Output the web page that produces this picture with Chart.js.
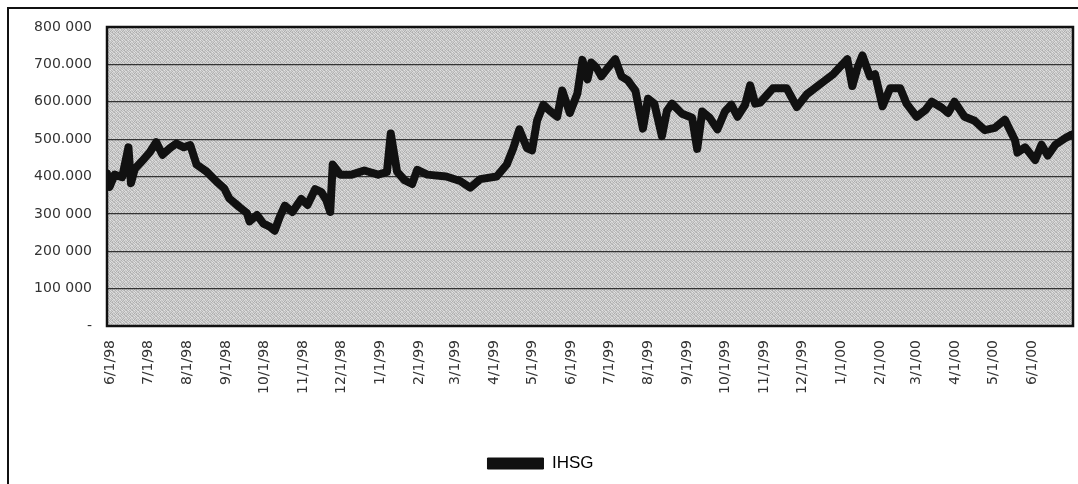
<!DOCTYPE html>
<html><head><meta charset="utf-8">
<script src="https://cdn.jsdelivr.net/npm/chart.js@4/dist/chart.umd.min.js"></script>
<style>
html,body{margin:0;padding:0;background:#fff;}
#wrap{position:relative;width:1078px;height:484px;overflow:hidden;}
#frame{position:absolute;left:7px;top:7px;right:-4px;bottom:-4px;border-top:2px solid #111;border-left:2px solid #111;pointer-events:none;}
canvas{position:absolute;left:0;top:0;}
</style></head><body>
<div id="wrap"><canvas id="c" width="1078" height="484"></canvas><div id="frame"></div></div>
<script>
const seriesName = "IHSG";
const dates = [
"1998-05-29","1998-05-31","1998-06-04","1998-06-10","1998-06-15","1998-06-17","1998-06-20","1998-06-26",
"1998-07-02","1998-07-07","1998-07-12","1998-07-18","1998-07-23","1998-07-29","1998-08-03","1998-08-08",
"1998-08-16","1998-08-24","1998-08-30","1998-09-03","1998-09-11","1998-09-17","1998-09-19","1998-09-25",
"1998-09-30","1998-10-05","1998-10-09","1998-10-13","1998-10-17","1998-10-23","1998-10-30","1998-11-04",
"1998-11-10","1998-11-15","1998-11-19","1998-11-22","1998-11-24","1998-11-30","1998-12-09","1998-12-19",
"1998-12-30","1999-01-06","1999-01-09","1999-01-14","1999-01-20","1999-01-26","1999-01-30","1999-02-07",
"1999-02-22","1999-03-05","1999-03-13","1999-03-21","1999-04-03","1999-04-11","1999-04-16","1999-04-21",
"1999-04-27","1999-05-01","1999-05-05","1999-05-10","1999-05-15","1999-05-21","1999-05-25","1999-05-31",
"1999-06-06","1999-06-10","1999-06-14","1999-06-17","1999-06-21","1999-06-25","1999-06-30","1999-07-06",
"1999-07-11","1999-07-16","1999-07-22","1999-07-28","1999-08-01","1999-08-06","1999-08-12","1999-08-16",
"1999-08-20","1999-08-28","1999-09-05","1999-09-09","1999-09-13","1999-09-19","1999-09-25","1999-10-01",
"1999-10-06","1999-10-11","1999-10-17","1999-10-21","1999-10-25","1999-10-29","1999-11-08","1999-11-19",
"1999-11-27","1999-12-05","1999-12-15","1999-12-26","2000-01-06","2000-01-10","2000-01-14","2000-01-18",
"2000-01-24","2000-01-28","2000-02-03","2000-02-09","2000-02-17","2000-02-22","2000-03-01","2000-03-08",
"2000-03-13","2000-03-21","2000-03-26","2000-03-31","2000-04-08","2000-04-16","2000-04-24","2000-05-02",
"2000-05-10","2000-05-18","2000-05-20","2000-05-26","2000-06-03","2000-06-08","2000-06-13","2000-06-19",
"2000-06-27","2000-07-02"
];
const ihsg = [
408000,372000,405000,398000,478000,382000,420000,442000,
465000,492000,458000,476000,488000,478000,484000,432000,
413000,386000,368000,341000,318000,302000,280000,297000,
274000,266000,255000,292000,322000,305000,340000,324000,
366000,358000,336000,305000,432000,405000,405000,416000,
405000,412000,515000,413000,390000,380000,418000,405000,
400000,388000,370000,393000,400000,432000,474000,526000,
476000,470000,549000,592000,576000,560000,630000,570000,
622000,712000,660000,705000,692000,668000,690000,714000,
668000,657000,630000,528000,608000,595000,508000,576000,
595000,568000,557000,474000,574000,557000,526000,574000,
592000,560000,592000,644000,595000,598000,636000,636000,
586000,620000,646000,674000,714000,642000,690000,724000,
668000,674000,588000,636000,636000,595000,560000,578000,
600000,584000,570000,600000,560000,549000,524000,530000,
552000,497000,464000,478000,444000,485000,456000,485000,
503000,512000
];
const tickDates = ["1998-06-01","1998-07-01","1998-08-01","1998-09-01","1998-10-01","1998-11-01","1998-12-01",
"1999-01-01","1999-02-01","1999-03-01","1999-04-01","1999-05-01","1999-06-01","1999-07-01","1999-08-01",
"1999-09-01","1999-10-01","1999-11-01","1999-12-01","2000-01-01","2000-02-01","2000-03-01","2000-04-01",
"2000-05-01","2000-06-01"];
const tickLabels = ["6/1/98","7/1/98","8/1/98","9/1/98","10/1/98","11/1/98","12/1/98","1/1/99","2/1/99",
"3/1/99","4/1/99","5/1/99","6/1/99","7/1/99","8/1/99","9/1/99","10/1/99","11/1/99","12/1/99","1/1/00",
"2/1/00","3/1/00","4/1/00","5/1/00","6/1/00"];
const yTickLabels = ["-","100 000","200 000","300 000","400.000","500.000","600.000","700.000","800 000"];
const xRange = ["1998-05-29","2000-07-03"];

const base = Date.parse("1998-06-01");
const dayOf = s => Math.round((Date.parse(s) - base) / 86400000);
const points = dates.map((d, i) => ({x: dayOf(d), y: ihsg[i]}));
const tickDays = tickDates.map(dayOf);

// fixed (non-random) halftone-like tile for the scanned plot background
const shade = [
  [214,190,206,178,220,196],
  [184,224,172,210,188,204],
  [208,176,216,194,170,218],
  [192,212,186,222,204,180],
  [174,202,226,182,214,196],
  [218,186,198,208,178,224]
];
function makeTile() {
  const t = document.createElement('canvas');
  t.width = 6; t.height = 6;
  const c = t.getContext('2d');
  const img = c.createImageData(6, 6);
  for (let y = 0; y < 6; y++) for (let x = 0; x < 6; x++) {
    const k = (y * 6 + x) * 4, g = shade[y][x];
    img.data[k] = g; img.data[k+1] = g; img.data[k+2] = g; img.data[k+3] = 255;
  }
  c.putImageData(img, 0, 0);
  return t;
}

const plotFrame = {
  id: 'plotFrame',
  beforeDraw(chart) {
    const {ctx, chartArea: a} = chart;
    ctx.save();
    ctx.fillStyle = ctx.createPattern(makeTile(), 'repeat');
    ctx.fillRect(a.left, a.top, a.right - a.left, a.bottom - a.top);
    ctx.restore();
  },
  afterDraw(chart) {
    const {ctx, chartArea: a} = chart;
    ctx.save();
    ctx.strokeStyle = '#111';
    ctx.lineWidth = 2.5;
    ctx.strokeRect(a.left, a.top, a.right - a.left, a.bottom - a.top);
    ctx.restore();
  }
};

new Chart(document.getElementById('c'), {
  type: 'line',
  data: {
    datasets: [{
      label: seriesName,
      data: points,
      borderColor: '#111',
      backgroundColor: '#111',
      borderWidth: 8,
      borderJoinStyle: 'round',
      borderCapStyle: 'round',
      pointRadius: 0,
      tension: 0,
      fill: false
    }]
  },
  options: {
    responsive: false,
    animation: false,
    devicePixelRatio: 1,
    layout: {padding: {left: 8, top: 27, right: 5, bottom: 2}},
    plugins: {
      tooltip: {enabled: false},
      legend: {
        position: 'bottom',
        labels: {
          boxWidth: 56, boxHeight: 11, padding: 10,
          color: '#111',
          font: {family: 'Liberation Sans, Arial, sans-serif', size: 17},
          generateLabels: chart => [{
            text: chart.data.datasets[0].label,
            fillStyle: '#111', strokeStyle: '#111', lineWidth: 1,
            hidden: false, datasetIndex: 0
          }]
        }
      }
    },
    scales: {
      x: {
        type: 'linear',
        min: dayOf(xRange[0]),
        max: dayOf(xRange[1]),
        afterBuildTicks: s => { s.ticks = tickDays.map(v => ({value: v})); },
        afterFit: s => { s.height = 119; },
        grid: {display: false, drawTicks: false},
        border: {display: false},
        ticks: {
          autoSkip: false, minRotation: 90, maxRotation: 90, padding: 14,
          color: '#333',
          font: {family: 'DejaVu Sans, sans-serif', size: 14},
          callback: (v, i) => tickLabels[i]
        }
      },
      y: {
        min: 0, max: 800000,
        afterFit: s => { s.width = 99; },
        grid: {color: '#333', lineWidth: 1.2, drawTicks: false},
        border: {display: false},
        ticks: {
          stepSize: 100000, padding: 15,
          color: '#333',
          font: {family: 'DejaVu Sans, sans-serif', size: 14},
          callback: (v) => yTickLabels[Math.round(v / 100000)]
        }
      }
    }
  },
  plugins: [plotFrame]
});
</script>
</body></html>
